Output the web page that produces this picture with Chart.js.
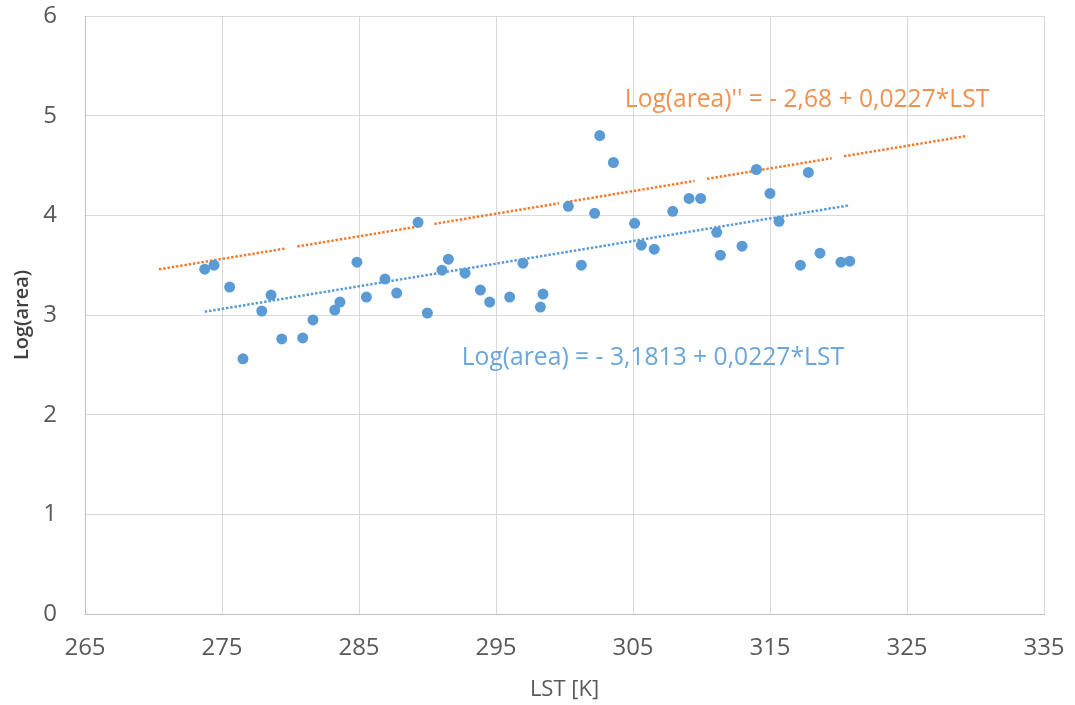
<!DOCTYPE html>
<html>
<head>
<meta charset="utf-8">
<script src="https://cdn.jsdelivr.net/npm/chart.js@4/dist/chart.umd.min.js"></script>
<style>
  html, body { margin: 0; padding: 0; background: #ffffff; }
  #wrap { width: 1075px; height: 705px; }
</style>
</head>
<body>
<div id="wrap"><canvas id="c" width="1075" height="705"></canvas></div>
<script>
// Land surface temperature (K) and log of burned area for each observation
const lst = [
  273.74, 274.42, 275.56, 276.53, 277.90, 278.58, 279.36, 280.89, 281.64, 283.23,
  283.61, 284.85, 285.54, 286.90, 287.75, 289.31, 289.99, 291.06, 291.52, 292.74,
  293.86, 294.54, 296.00, 296.97, 298.24, 298.43, 300.28, 301.23, 302.20, 302.57,
  303.57, 305.12, 305.61, 306.55, 307.90, 309.09, 309.94, 311.11, 311.38, 312.96,
  314.01, 315.00, 315.66, 317.22, 317.80, 318.65, 320.18, 320.82
];
const logArea = [
  3.46, 3.50, 3.28, 2.56, 3.04, 3.20, 2.76, 2.77, 2.95, 3.05,
  3.13, 3.53, 3.18, 3.36, 3.22, 3.93, 3.02, 3.45, 3.56, 3.42,
  3.25, 3.13, 3.18, 3.52, 3.08, 3.21, 4.09, 3.50, 4.02, 4.80,
  4.53, 3.92, 3.70, 3.66, 4.04, 4.17, 4.17, 3.83, 3.60, 3.69,
  4.46, 4.22, 3.94, 3.50, 4.43, 3.62, 3.53, 3.54
];

// Axis ticks
const xTicks = [265, 275, 285, 295, 305, 315, 325, 335];
const yTicks = [0, 1, 2, 3, 4, 5, 6];

// Regression lines: [intercept, slope]
const fitMain = [-3.1813, 0.0227];
const fitUpper = [-2.68, 0.0227];

// The upper line is drawn in separate pieces
const upperPieces = [
  [270.4, 279.6], [280.5, 289.5], [290.5, 299.6],
  [300.1, 309.5], [310.4, 319.5], [320.4, 329.4]
];

// Equation labels: text, left x, right x, baseline y (data units)
const labelTexts = [
  "Log(area)'' = - 2,68 + 0,0227*LST",
  "Log(area) = - 3,1813 + 0,0227*LST"
];
const labelLeft = [304.4, 292.5];
const labelRight = [331.0, 320.4];
const labelBase = [5.09, 2.50];
const labelColors = ['#F0914F', '#6AA6DA'];

const BLUE = '#5B9BD5';
const ORANGE = '#ED7D31';
const TEXT = '#595959';
const FONT = "'Open Sans', 'Noto Sans', sans-serif";

const points = lst.map((x, i) => ({ x: x, y: logArea[i] }));

const line = (f, x) => f[0] + f[1] * x;
const xMin = Math.min(...lst), xMax = Math.max(...lst);
const mainTrend = [
  { x: xMin, y: line(fitMain, xMin) },
  { x: xMax, y: line(fitMain, xMax) }
];
const upperTrend = [];
upperPieces.forEach((p, i) => {
  if (i > 0) upperTrend.push({ x: p[0], y: null });
  upperTrend.push({ x: p[0], y: line(fitUpper, p[0]) });
  upperTrend.push({ x: p[1], y: line(fitUpper, p[1]) });
});

const equationLabels = {
  id: 'equationLabels',
  afterDatasetsDraw(chart) {
    const { ctx, scales } = chart;
    ctx.save();
    ctx.font = '26px ' + FONT;
    ctx.textBaseline = 'alphabetic';
    ctx.textAlign = 'left';
    labelTexts.forEach((t, i) => {
      const x0 = scales.x.getPixelForValue(labelLeft[i]);
      const x1 = scales.x.getPixelForValue(labelRight[i]);
      const y = scales.y.getPixelForValue(labelBase[i]);
      const w = ctx.measureText(t).width;
      ctx.save();
      ctx.translate(x0, y);
      ctx.scale((x1 - x0) / w, 1);
      ctx.fillStyle = labelColors[i];
      ctx.fillText(t, 0, 0);
      ctx.restore();
    });
    ctx.restore();
  }
};

new Chart(document.getElementById('c'), {
  type: 'scatter',
  data: {
    datasets: [
      {
        label: 'Log(area)',
        data: points,
        backgroundColor: BLUE,
        borderColor: BLUE,
        borderWidth: 0,
        pointRadius: 5.5,
        order: 0
      },
      {
        label: 'trend',
        data: mainTrend,
        showLine: true,
        borderColor: BLUE,
        borderWidth: 2.5,
        borderDash: [2.5, 1.8],
        pointRadius: 0,
        fill: false,
        order: 1
      },
      {
        label: 'upper',
        data: upperTrend,
        showLine: true,
        spanGaps: false,
        borderColor: ORANGE,
        borderWidth: 2.5,
        borderDash: [2.5, 1.8],
        pointRadius: 0,
        fill: false,
        order: 1
      }
    ]
  },
  options: {
    responsive: false,
    animation: false,
    events: [],
    layout: { padding: { top: 16, right: 31, left: 0, bottom: 0 } },
    plugins: {
      legend: { display: false },
      tooltip: { enabled: false }
    },
    scales: {
      x: {
        type: 'linear',
        min: xTicks[0],
        max: xTicks[xTicks.length - 1],
        afterBuildTicks(axis) { axis.ticks = xTicks.map(v => ({ value: v })); },
        afterFit(axis) {
          axis.height = 91;
          axis.paddingLeft = 0;
          axis.paddingRight = 0;
        },
        grid: { color: '#D9D9D9', lineWidth: 1, drawTicks: false },
        border: { color: '#BFBFBF', width: 1 },
        ticks: { color: TEXT, font: { family: FONT, size: 24 }, padding: 20, maxRotation: 0 },
        title: {
          display: true,
          text: 'LST [K]',
          color: TEXT,
          font: { family: FONT, size: 22 },
          padding: { top: 0, bottom: 2 }
        }
      },
      y: {
        type: 'linear',
        min: yTicks[0],
        max: yTicks[yTicks.length - 1],
        afterBuildTicks(axis) { axis.ticks = yTicks.map(v => ({ value: v })); },
        afterFit(axis) {
          axis.width = 85;
          axis.paddingTop = 0;
          axis.paddingBottom = 0;
        },
        grid: { color: '#D9D9D9', lineWidth: 1, drawTicks: false },
        border: { color: '#BFBFBF', width: 1 },
        ticks: { color: TEXT, font: { family: FONT, size: 24 }, padding: 28 },
        title: {
          display: true,
          text: 'Log(area)',
          color: '#404040',
          font: { family: FONT, size: 20, weight: '600' },
          padding: { top: 10, bottom: 0 }
        }
      }
    }
  },
  plugins: [equationLabels]
});
</script>
</body>
</html>
